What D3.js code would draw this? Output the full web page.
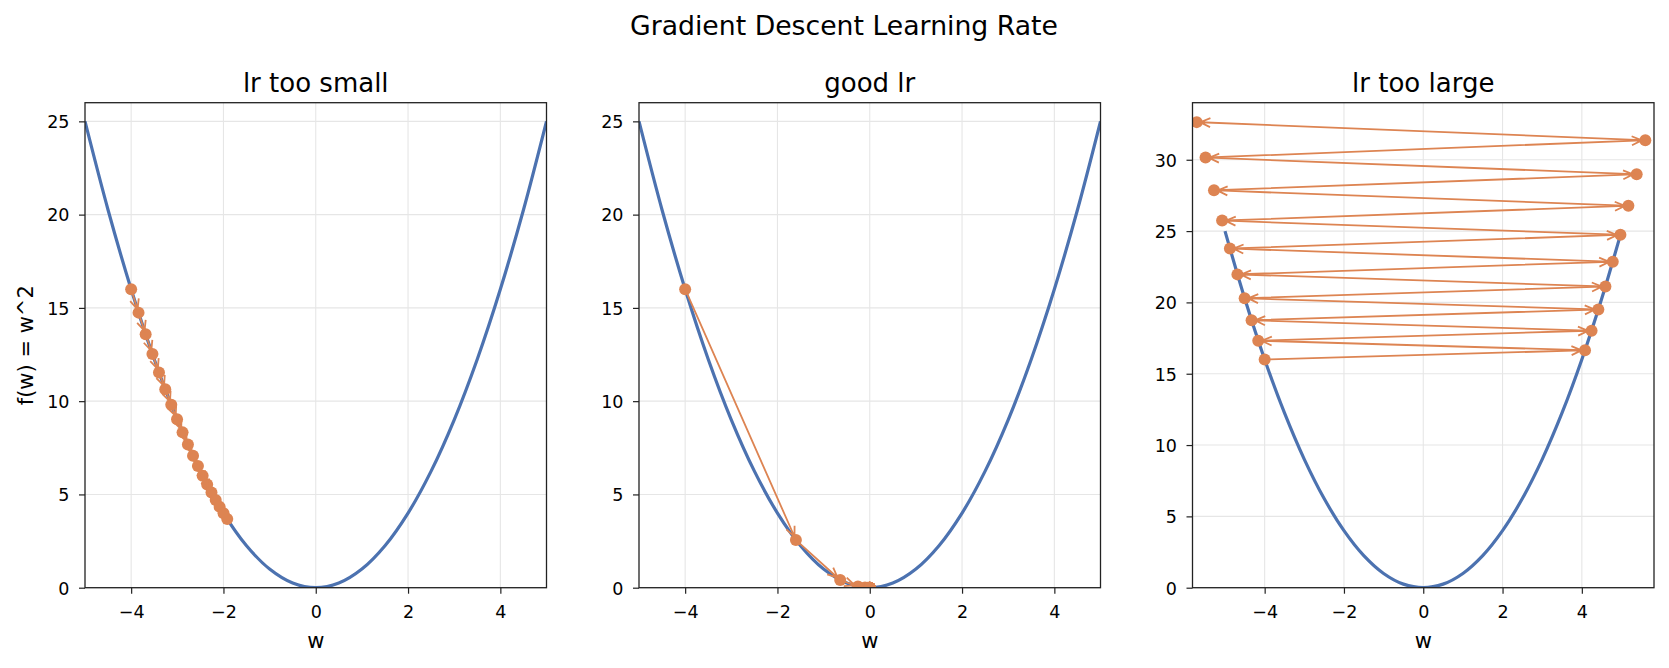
<!DOCTYPE html>
<html>
<head>
<meta charset="utf-8">
<script src="https://cdn.jsdelivr.net/npm/d3@7"></script>
<style>
  body { margin: 0; background: #fff; }
  text { font-family: "DejaVu Sans", sans-serif; fill: #000; }
</style>
</head>
<body>
<svg id="chart" width="1669" height="668"></svg>
<script>
// ---------------- data ----------------
const suptitle = "Gradient Descent Learning Rate";
const panelTitles = ["lr too small", "good lr", "lr too large"];
const xLabel = "w";
const yLabel = "f(w) = w^2";

// loss curve samples f(w) = w^2
const curveW = [-5, -4.5, -4, -3.5, -3, -2.5, -2, -1.5, -1, -0.5, 0, 0.5, 1, 1.5, 2, 2.5, 3, 3.5, 4, 4.5, 5];
const curveF = [25, 20.25, 16, 12.25, 9, 6.25, 4, 2.25, 1, 0.25, 0, 0.25, 1, 2.25, 4, 6.25, 9, 12.25, 16, 20.25, 25];

// descent paths
const smallW = [-4, -3.84, -3.686, -3.539, -3.397, -3.261, -3.131, -3.006, -2.886, -2.770, -2.659, -2.553, -2.451, -2.353, -2.259, -2.168, -2.082, -1.998, -1.918];
const smallF = [16, 14.746, 13.590, 12.524, 11.542, 10.637, 9.803, 9.035, 8.327, 7.674, 7.072, 6.518, 6.007, 5.536, 5.102, 4.702, 4.333, 3.993, 3.680];

const goodW = [-4, -1.6, -0.64, -0.256, -0.1024, -0.041, -0.0164, -0.0066, -0.0026, -0.001, -0.0004, -0.0002, -0.0001, -0.00003, -0.00001, 0, 0, 0, 0];
const goodF = [16, 2.56, 0.4096, 0.0655, 0.0105, 0.0017, 0.0003, 0.00004, 0, 0, 0, 0, 0, 0, 0, 0, 0, 0, 0];

const largeW = [-4, 4.08, -4.162, 4.245, -4.330, 4.416, -4.505, 4.595, -4.687, 4.780, -4.876, 4.973, -5.073, 5.174, -5.278, 5.383, -5.491, 5.601, -5.713];
const largeF = [16, 16.646, 17.319, 18.019, 18.747, 19.504, 20.292, 21.112, 21.965, 22.852, 23.775, 24.736, 25.735, 26.775, 27.856, 28.982, 30.153, 31.371, 32.638];

// ticks
const xTicks = [-4, -2, 0, 2, 4];
const yTicksA = [0, 5, 10, 15, 20, 25];
const yTicksB = [0, 5, 10, 15, 20, 25, 30];

// ---------------- layout ----------------
const panelLeft = [85, 639, 1192.5];
const panelWidth = 461.5;
const axTop = 102.7, axBottom = 587.7;
const xDomains = [[-5, 5], [-5, 5], [-5.82, 5.82]];
const yDomains = [[0, 26], [0, 26], [0, 34]];
const pathsW = [smallW, goodW, largeW];
const pathsF = [smallF, goodF, largeF];
const yTickSets = [yTicksA, yTicksA, yTicksB];

const BLUE = "#4c72b0", ORANGE = "#dd8452";
const svg = d3.select("#chart");
svg.append("rect").attr("width", 1669).attr("height", 668).attr("fill", "#fff");

svg.append("text")
  .attr("x", 844).attr("y", 35)
  .attr("text-anchor", "middle")
  .style("font-size", "26.7px")
  .text(suptitle);

function arrowPath(x0, y0, x1, y1) {
  const dx = x1 - x0, dy = y1 - y0, L = Math.hypot(dx, dy);
  if (L < 9) return null;
  const ux = dx / L, uy = dy / L;
  const s = 3.5;
  const ax = x0 + ux * s, ay = y0 + uy * s;
  const bx = x1 - ux * s, by = y1 - uy * s;
  const hl = 10, hw = 4.5;
  const nx = -uy, ny = ux;
  const hx = bx - ux * hl, hy = by - uy * hl;
  return `M${ax},${ay}L${bx},${by}M${hx + nx * hw},${hy + ny * hw}L${bx},${by}L${hx - nx * hw},${hy - ny * hw}`;
}

for (let i = 0; i < 3; i++) {
  const left = panelLeft[i], right = left + panelWidth;
  const x = d3.scaleLinear().domain(xDomains[i]).range([left, right]);
  const y = d3.scaleLinear().domain(yDomains[i]).range([axBottom, axTop]);
  const g = svg.append("g");

  const clipId = "clip" + i;
  svg.append("defs").append("clipPath").attr("id", clipId)
    .append("rect").attr("x", left).attr("y", axTop)
    .attr("width", panelWidth).attr("height", axBottom - axTop);

  // grid
  g.append("g").selectAll("line").data(xTicks).join("line")
    .attr("x1", d => x(d)).attr("x2", d => x(d))
    .attr("y1", axTop).attr("y2", axBottom)
    .attr("stroke", "#e6e6e6").attr("stroke-width", 1.1);
  g.append("g").selectAll("line").data(yTickSets[i]).join("line")
    .attr("y1", d => y(d)).attr("y2", d => y(d))
    .attr("x1", left).attr("x2", right)
    .attr("stroke", "#e6e6e6").attr("stroke-width", 1.1);

  // curve
  const line = d3.line().x((d, k) => x(curveW[k])).y(d => y(d)).curve(d3.curveCatmullRom.alpha(0.5));
  g.append("path").datum(curveF)
    .attr("d", line)
    .attr("fill", "none").attr("stroke", BLUE).attr("stroke-width", 3.2)
    .attr("clip-path", `url(#${clipId})`);

  // markers
  const W = pathsW[i], F = pathsF[i];
  g.append("g").attr("clip-path", `url(#${clipId})`)
    .selectAll("circle").data(W).join("circle")
    .attr("cx", d => x(d)).attr("cy", (d, k) => y(F[k]))
    .attr("r", 6).attr("fill", ORANGE);

  // arrows
  const ag = g.append("g");
  for (let k = 0; k < W.length - 1; k++) {
    const p = arrowPath(x(W[k]), y(F[k]), x(W[k + 1]), y(F[k + 1]));
    if (p) ag.append("path").attr("d", p)
      .attr("fill", "none").attr("stroke", ORANGE).attr("stroke-width", 1.8)
      .attr("stroke-linejoin", "miter");
  }

  // axes
  const xa = g.append("g").attr("transform", `translate(0,${axBottom})`)
    .call(d3.axisBottom(x).tickValues(xTicks).tickSize(6).tickSizeOuter(0));
  xa.select(".domain").remove();
  xa.selectAll(".tick line").attr("stroke", "#222").attr("stroke-width", 1.2);
  xa.selectAll(".tick text").attr("y", 30.5).attr("dy", 0)
    .style("font-size", "17.5px").attr("fill", "#000")
    .style("font-family", '"DejaVu Sans", sans-serif');

  const ya = g.append("g").attr("transform", `translate(${left},0)`)
    .call(d3.axisLeft(y).tickValues(yTickSets[i]).tickSize(6).tickSizeOuter(0));
  ya.select(".domain").remove();
  ya.selectAll(".tick line").attr("stroke", "#222").attr("stroke-width", 1.2);
  ya.selectAll(".tick text").attr("x", -15.5).attr("dy", 6.3)
    .style("font-size", "17.5px").attr("fill", "#000")
    .style("font-family", '"DejaVu Sans", sans-serif');

  // frame
  g.append("rect").attr("x", left).attr("y", axTop)
    .attr("width", panelWidth).attr("height", axBottom - axTop)
    .attr("fill", "none").attr("stroke", "#222").attr("stroke-width", 1.3);

  // titles/labels
  g.append("text").attr("x", (left + right) / 2).attr("y", 91.7)
    .attr("text-anchor", "middle").style("font-size", "26px")
    .text(panelTitles[i]);
  g.append("text").attr("x", (left + right) / 2).attr("y", 648.3)
    .attr("text-anchor", "middle").style("font-size", "21px")
    .text(xLabel);
  if (i === 0) {
    g.append("text")
      .attr("transform", `translate(33,${(axTop + axBottom) / 2}) rotate(-90)`)
      .attr("text-anchor", "middle").style("font-size", "21px")
      .text(yLabel);
  }
}
</script>
</body>
</html>
